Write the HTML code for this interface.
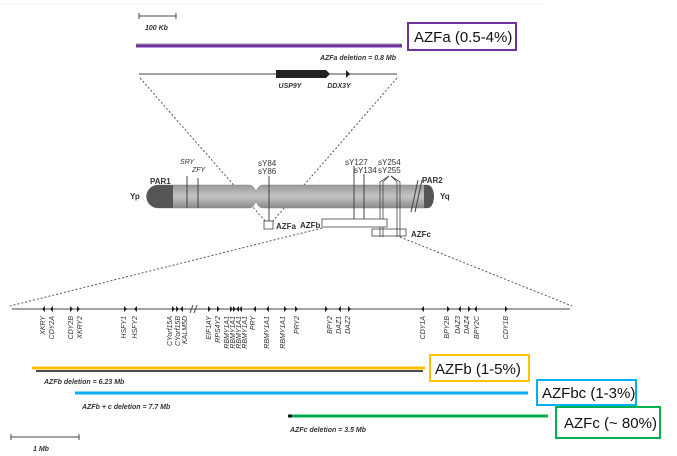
<!DOCTYPE html>
<html><head><meta charset="utf-8"><style>
html,body{margin:0;padding:0;background:#fff;}
svg{display:block;}
.it{font-family:"Liberation Sans",sans-serif;font-style:italic;font-weight:bold;font-size:7px;fill:#333;}
.g{font-family:"Liberation Sans",sans-serif;font-size:8px;fill:#333;}
.big{font-family:"Liberation Sans",sans-serif;font-size:15px;fill:#111;}
.gn{font-family:"Liberation Sans",sans-serif;font-style:italic;font-size:7px;fill:#333;}
</style></head><body>
<svg width="677" height="456" viewBox="0 0 677 456" xmlns="http://www.w3.org/2000/svg">
<defs>
<linearGradient id="cg" x1="0" y1="0" x2="0" y2="1">
<stop offset="0" stop-color="#9a9a9a"/><stop offset="0.5" stop-color="#c4c4c4"/><stop offset="1" stop-color="#8a8a8a"/>
</linearGradient>
</defs>
<line x1="0" y1="4" x2="545" y2="4" stroke="#eee" stroke-width="1"/>
<!-- 100kb scale -->
<g stroke="#444" stroke-width="1"><line x1="139" y1="16" x2="176" y2="16"/><line x1="139" y1="13" x2="139" y2="19"/><line x1="176" y1="13" x2="176" y2="19"/></g>
<text class="it" x="145" y="30">100 Kb</text>
<line x1="136" y1="44" x2="402" y2="44" stroke="#999" stroke-width="1"/>
<line x1="136" y1="46" x2="402" y2="46" stroke="#7030a0" stroke-width="3"/>
<rect x="408" y="23" width="108" height="27" fill="#fff" stroke="#7030a0" stroke-width="2"/>
<text class="big" x="414" y="42">AZFa (0.5-4%)</text>
<text class="it" x="396" y="60" text-anchor="end">AZFa deletion = 0.8 Mb</text>
<line x1="139" y1="74" x2="397" y2="74" stroke="#444" stroke-width="1"/>
<polygon points="276,70 326,70 330,74 326,78 276,78" fill="#222"/>
<polygon points="346,70 350,74 346,78" fill="#222"/>
<text class="it" x="290" y="88" text-anchor="middle">USP9Y</text>
<text class="it" x="339" y="88" text-anchor="middle">DDX3Y</text>
<g stroke="#555" stroke-width="1" stroke-dasharray="2,2" fill="none">
<line x1="140" y1="78" x2="266" y2="222"/>
<line x1="397" y1="78" x2="272" y2="222"/>
<line x1="322" y1="228" x2="10" y2="306"/>
<line x1="400" y1="237" x2="572" y2="306"/>
</g>
<!-- chromosome -->
<path d="M158,185 H249 Q254,185 256,192 Q258,185 263,185 H428 V208 H263 Q258,208 256,201 Q254,208 249,208 H158 A11.5,11.5 0 0 1 158,185 Z" fill="url(#cg)" stroke="#888" stroke-width="0.5"/>
<path d="M158,185 H173 V208 H158 A11.5,11.5 0 0 1 158,185 Z" fill="#555"/>
<path d="M424,185 H428 A6,11.5 0 0 1 428,208 H424 Z" fill="#555"/>
<line x1="411" y1="212" x2="418" y2="180" stroke="#444" stroke-width="1"/>
<line x1="415" y1="212" x2="422" y2="180" stroke="#444" stroke-width="1"/>
<text class="g" x="130" y="199" font-weight="bold">Yp</text>
<text class="g" x="440" y="199" font-weight="bold">Yq</text>
<text class="g" x="150" y="184" font-weight="bold">PAR1</text>
<text class="g" x="422" y="183" font-weight="bold">PAR2</text>
<text class="gn" x="180" y="164">SRY</text>
<text class="gn" x="192" y="172">ZFY</text>
<g stroke="#444" stroke-width="1">
<line x1="187" y1="176" x2="187" y2="208"/><line x1="198" y1="178" x2="198" y2="208"/>
<line x1="269" y1="176" x2="269" y2="222"/>
<line x1="354" y1="166" x2="354" y2="225"/><line x1="364" y1="174" x2="364" y2="225"/>
</g>
<text class="g" x="258" y="166">sY84</text>
<text class="g" x="258" y="174">sY86</text>
<text class="g" x="345" y="165">sY127</text>
<text class="g" x="354" y="173">sY134</text>
<text class="g" x="378" y="165">sY254</text>
<text class="g" x="378" y="173">sY255</text>
<g stroke="#444" stroke-width="0.8" fill="none">
<polyline points="389,176 380,182 380,237"/><polyline points="389,176 383,182 383,237"/>
<polyline points="391,176 397,182 397,237"/><polyline points="391,176 400,182 400,237"/>
</g>
<rect x="264" y="221" width="9" height="8" fill="#fff" stroke="#444" stroke-width="0.8"/>
<text class="g" x="276" y="229" font-weight="bold">AZFa</text>
<rect x="322" y="219" width="65" height="8" fill="#fff" stroke="#444" stroke-width="0.8"/>
<text class="g" x="300" y="228" font-weight="bold">AZFb</text>
<rect x="372" y="229" width="34" height="7" fill="none" stroke="#444" stroke-width="0.8"/>
<text class="g" x="411" y="237" font-weight="bold">AZFc</text>
<!-- gene line -->
<line x1="12" y1="309" x2="570" y2="309" stroke="#444" stroke-width="1"/>
<line x1="190" y1="313" x2="193" y2="305" stroke="#444"/><line x1="194" y1="313" x2="197" y2="305" stroke="#444"/>
<g fill="#222">
<polygon points="45,306 42,309 45,312"/><polygon points="53,306 50,309 53,312"/>
<polygon points="70,306 73,309 70,312"/><polygon points="77,306 80,309 77,312"/>
<polygon points="124,306 127,309 124,312"/><polygon points="137,306 134,309 137,312"/>
<polygon points="172,306 175,309 172,312"/><polygon points="176,306 179,309 176,312"/><polygon points="183,306 180,309 183,312"/>
<polygon points="208,306 211,309 208,312"/><polygon points="217,306 220,309 217,312"/>
<polygon points="230,306 233,309 230,312"/><polygon points="233,306 236,309 233,312"/><polygon points="239,306 236,309 239,312"/><polygon points="242,306 239,309 242,312"/>
<polygon points="256,306 253,309 256,312"/><polygon points="269,306 266,309 269,312"/><polygon points="284,306 287,309 284,312"/><polygon points="295,306 298,309 295,312"/>
<polygon points="325,306 328,309 325,312"/><polygon points="341,306 338,309 341,312"/><polygon points="348,306 351,309 348,312"/>
<polygon points="424,306 421,309 424,312"/>
<polygon points="447,306 450,309 447,312"/><polygon points="461,306 458,309 461,312"/><polygon points="468,306 471,309 468,312"/><polygon points="477,306 474,309 477,312"/>
<polygon points="505,306 508,309 505,312"/>
</g>
<g class="gn" text-anchor="end">
<text transform="translate(45,316) rotate(-90)">XKRY</text>
<text transform="translate(54,316) rotate(-90)">CDY2A</text>
<text transform="translate(73,316) rotate(-90)">CDY2B</text>
<text transform="translate(82,316) rotate(-90)">XKRY2</text>
<text transform="translate(126,316) rotate(-90)">HSFY1</text>
<text transform="translate(137,316) rotate(-90)">HSFY2</text>
<text transform="translate(172,316) rotate(-90)">CYorf15A</text>
<text transform="translate(180,316) rotate(-90)">CYorf15B</text>
<text transform="translate(187,316) rotate(-90)">KALM5D</text>
<text transform="translate(211,316) rotate(-90)">EIF1AY</text>
<text transform="translate(220,316) rotate(-90)">RPS4Y2</text>
<text transform="translate(229,316) rotate(-90)">RBMY1A1</text>
<text transform="translate(235,316) rotate(-90)">RBMY1A1</text>
<text transform="translate(241,316) rotate(-90)">RBMY1A1</text>
<text transform="translate(247,316) rotate(-90)">RBMY1A1</text>
<text transform="translate(255,316) rotate(-90)">PRY</text>
<text transform="translate(269,316) rotate(-90)">RBMY1A1</text>
<text transform="translate(285,316) rotate(-90)">RBMY1A1</text>
<text transform="translate(299,316) rotate(-90)">PRY2</text>
<text transform="translate(332,316) rotate(-90)">BPY2</text>
<text transform="translate(341,316) rotate(-90)">DAZ1</text>
<text transform="translate(350,316) rotate(-90)">DAZ2</text>
<text transform="translate(425,316) rotate(-90)">CDY1A</text>
<text transform="translate(449,316) rotate(-90)">BPY2B</text>
<text transform="translate(460,316) rotate(-90)">DAZ3</text>
<text transform="translate(469,316) rotate(-90)">DAZ4</text>
<text transform="translate(479,316) rotate(-90)">BPY2C</text>
<text transform="translate(508,316) rotate(-90)">CDY1B</text>
</g>
<!-- deletions -->
<line x1="36" y1="371" x2="423" y2="371" stroke="#111" stroke-width="1.5"/>
<line x1="32" y1="368" x2="425" y2="368" stroke="#ffc000" stroke-width="3"/>
<rect x="430" y="355" width="99" height="26" fill="#fff" stroke="#ffc000" stroke-width="2"/>
<text class="big" x="435" y="374">AZFb (1-5%)</text>
<text class="it" x="44" y="384">AZFb deletion = 6.23 Mb</text>
<line x1="75" y1="393" x2="528" y2="393" stroke="#00b0f0" stroke-width="3"/>
<rect x="537" y="380" width="99" height="25" fill="#fff" stroke="#00b0f0" stroke-width="2"/>
<text class="big" x="542" y="398">AZFbc (1-3%)</text>
<text class="it" x="82" y="409">AZFb + c deletion = 7.7 Mb</text>
<line x1="288" y1="416" x2="292" y2="416" stroke="#111" stroke-width="3"/>
<line x1="292" y1="416" x2="548" y2="416" stroke="#00b050" stroke-width="3"/>
<rect x="556" y="407" width="104" height="31" fill="#fff" stroke="#00b050" stroke-width="2"/>
<text class="big" x="564" y="428">AZFc (~ 80%)</text>
<text class="it" x="290" y="432">AZFc deletion = 3.5 Mb</text>
<g stroke="#444" stroke-width="1"><line x1="11" y1="437" x2="79" y2="437"/><line x1="11" y1="434" x2="11" y2="440"/><line x1="79" y1="434" x2="79" y2="440"/></g>
<text class="it" x="33" y="451">1 Mb</text>
</svg>
</body></html>
